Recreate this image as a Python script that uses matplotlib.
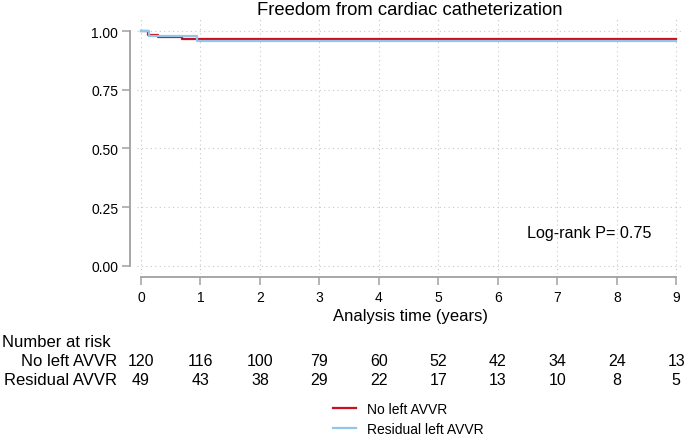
import matplotlib
matplotlib.use("Agg")
import matplotlib.pyplot as plt
from matplotlib.transforms import blended_transform_factory

plt.rcParams['font.family'] = ['Liberation Sans', 'DejaVu Sans']

# Kaplan-Meier step data
red_t = [0, 0.12, 0.28, 0.69, 9]
red_s = [1.0, 0.983, 0.975, 0.967, 0.967]
blue_t = [0, 0.13, 0.95, 9]
blue_s = [1.0, 0.980, 0.957, 0.957]

years = [0, 1, 2, 3, 4, 5, 6, 7, 8, 9]
risk_no = [120, 116, 100, 79, 60, 52, 42, 34, 24, 13]
risk_res = [49, 43, 38, 29, 22, 17, 13, 10, 8, 5]
yticks = [0, 0.25, 0.5, 0.75, 1.0]

red = '#c8101e'
blue = '#8fc6ea'
grey = '#a0a0a0'

W, H = 685, 439
fig = plt.figure(figsize=(W / 100, H / 100), dpi=100)
ax = fig.add_axes([137 / W, 1 - 275 / H, (684 - 137) / W, (275 - 20) / H])

ax.set_xlim(-0.067, 9.13)
ax.set_ylim(-0.036, 1.053)

ax.grid(True, linestyle=(0, (1, 3)), color='#c8c8c8', linewidth=0.8)
ax.set_axisbelow(True)

ax.step(red_t, red_s, where='post', color=red, linewidth=1.6, label='No left AVVR')
ax.step(blue_t, blue_s, where='post', color=blue, linewidth=1.6, label='Residual left AVVR')

ax.set_xticks(years)
ax.set_yticks(yticks)
ax.set_yticklabels(['%.2f' % v for v in yticks])
for s in ['top', 'right']:
    ax.spines[s].set_visible(False)
ax.spines['left'].set_position(('outward', 5))
ax.spines['bottom'].set_position(('outward', 2.2))
ax.spines['left'].set_bounds(0, 1)
ax.spines['bottom'].set_bounds(0, 9)
for s in ['left', 'bottom']:
    ax.spines[s].set_color(grey)
    ax.spines[s].set_linewidth(1.3)
ax.tick_params(colors=grey, length=6, width=1.1, labelcolor='black', labelsize=10, pad=2.5)
ax.tick_params(axis='x', pad=3.5)

fig.text(410 / W, 1 - 15 / H, 'Freedom from cardiac catheterization', fontsize=13.3,
         ha='center', va='baseline')
ax.set_xlabel('Analysis time (years)', fontsize=12, labelpad=3)

ax.text(6.49, 0.143, 'Log-rank P= 0.75', fontsize=11.6, va='center', ha='left')

# number at risk table
tr = blended_transform_factory(ax.transData, fig.transFigure)
fig.text(2 / W, 1 - 343 / H, 'Number at risk', fontsize=12, va='center', ha='left')
fig.text(117 / W, 1 - 362 / H, 'No left AVVR', fontsize=12, va='center', ha='right')
fig.text(117 / W, 1 - 381 / H, 'Residual AVVR', fontsize=12, va='center', ha='right')
for x, a, b in zip(years, risk_no, risk_res):
    ax.text(x, 1 - 362 / H, str(a), transform=tr, fontsize=11.5, va='center', ha='center')
    ax.text(x, 1 - 381 / H, str(b), transform=tr, fontsize=11.5, va='center', ha='center')

h, l = ax.get_legend_handles_labels()
fig.legend(h, l, loc='center left', bbox_to_anchor=(320 / W, 1 - 420 / H), frameon=False,
           fontsize=10, handlelength=1.7, handletextpad=0.75, labelspacing=0.45)

fig.savefig('out.png', dpi=100)
